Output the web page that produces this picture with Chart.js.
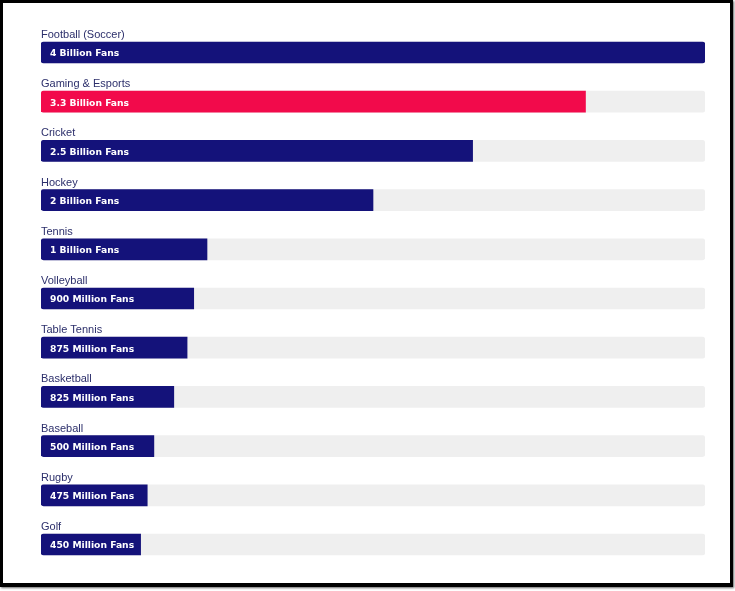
<!DOCTYPE html>
<html>
<head>
<meta charset="utf-8">
<script src="https://cdn.jsdelivr.net/npm/chart.js@4"></script>
<style>
  html, body { margin: 0; padding: 0; background: #fff; }
  #wrap { position: absolute; left: 0; top: 0; width: 735px; height: 591px; }
  #frame {
    position: absolute; left: 0; top: 0; width: 733px; height: 587px;
    box-sizing: border-box; border: 3px solid #000; border-bottom-width: 4px;
    box-shadow: 1px 1px 2px rgba(0,0,0,0.6);
    pointer-events: none;
  }
</style>
</head>
<body>
<div id="wrap"><canvas id="chart"></canvas></div>
<div id="frame"></div>
<script>
// sports and their fan counts (as labelled) plus bar length in % of the track
const sports = ['Football (Soccer)', 'Gaming & Esports', 'Cricket', 'Hockey', 'Tennis',
  'Volleyball', 'Table Tennis', 'Basketball', 'Baseball', 'Rugby', 'Golf'];
const fanLabels = ['4 Billion Fans', '3.3 Billion Fans', '2.5 Billion Fans', '2 Billion Fans',
  '1 Billion Fans', '900 Million Fans', '875 Million Fans', '825 Million Fans',
  '500 Million Fans', '475 Million Fans', '450 Million Fans'];
const shares = [100, 82, 65, 50, 25, 23, 22, 20, 17, 16, 15];
const trackMax = 100;
const highlight = 'Gaming & Esports';

const NAVY = '#14127a';
const RED = '#f20a4b';
const TRACK = '#efefef';

const barLabels = {
  id: 'barLabels',
  afterDatasetsDraw(chart) {
    const ctx = chart.ctx;
    const meta = chart.getDatasetMeta(0);
    ctx.save();
    meta.data.forEach(function (bar, i) {
      const h = bar.height;
      // sport name above the bar
      ctx.font = '11px "Liberation Sans", Arial, sans-serif';
      ctx.fillStyle = '#2c2f6b';
      ctx.textAlign = 'left';
      ctx.textBaseline = 'alphabetic';
      ctx.fillText(sports[i], chart.chartArea.left, bar.y - h / 2 - 4);
      // value inside the bar
      ctx.font = 'bold 9.2px "DejaVu Sans", Verdana, sans-serif';
      ctx.fillStyle = '#ffffff';
      ctx.textBaseline = 'middle';
      ctx.fillText(fanLabels[i], bar.base + 9, bar.y + 1.5);
    });
    ctx.restore();
  }
};

const el = document.getElementById('chart');
new Chart(el.getContext('2d'), {
  type: 'bar',
  data: {
    labels: sports,
    datasets: [
      {
        label: 'Fans',
        data: shares,
        backgroundColor: sports.map(function (s) { return s === highlight ? RED : NAVY; }),
        barThickness: 21,
        borderWidth: 0,
        borderSkipped: false,
        borderRadius: function (c) {
          return c.raw >= trackMax ? 3 : { topLeft: 3, bottomLeft: 3, topRight: 0, bottomRight: 0 };
        },
        order: 0
      },
      {
        label: 'Track',
        data: sports.map(function () { return trackMax; }),
        backgroundColor: TRACK,
        barThickness: 21,
        borderWidth: 0,
        borderSkipped: false,
        borderRadius: 3,
        order: 1
      }
    ]
  },
  options: {
    indexAxis: 'y',
    responsive: true,
    maintainAspectRatio: false,
    animation: false,
    grouped: false,
    layout: { padding: { left: 41, right: 30, top: 27.9, bottom: 21.9 } },
    scales: {
      x: { display: false, min: 0, max: trackMax },
      y: { display: false }
    },
    plugins: {
      legend: { display: false },
      tooltip: { enabled: false }
    }
  },
  plugins: [barLabels]
});
</script>
</body>
</html>
